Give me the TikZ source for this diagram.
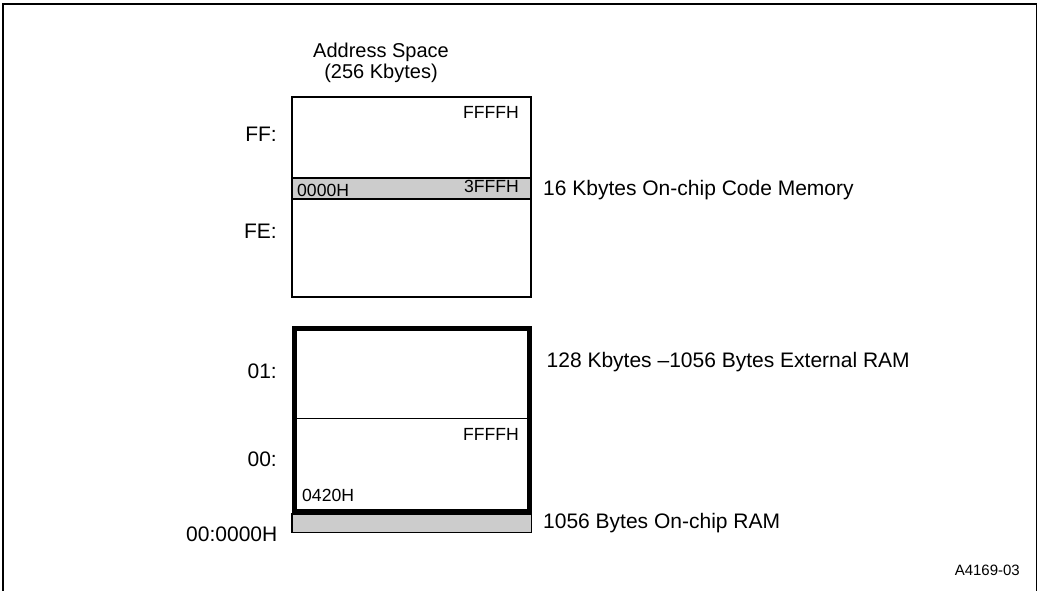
\documentclass[tikz,border=0pt]{standalone}
\usepackage{fontspec}
\setmainfont{Liberation Sans}
\usepackage{xcolor}
\usepackage{tikz}

\definecolor{bandgray}{HTML}{CCCCCC}

\begin{document}
\begin{tikzpicture}[x=1pt,y=-1pt,
  lbl/.style={inner sep=0pt, font=\fontsize{21}{25}\selectfont},
  addr/.style={inner sep=0pt, font=\fontsize{17.6}{21}\selectfont},
  band/.style={fill=bandgray, line width=1.2pt}]
\useasboundingbox (0,0) rectangle (1039,591);
\draw[line width=1.3pt] (3,591) -- (3,4) -- (1036.5,4) -- (1036.5,591);

\node[lbl, anchor=base, font=\fontsize{20}{24}\selectfont] (title) at (381,58) {Address Space};
\node[lbl, anchor=base, font=\fontsize{20}{24}\selectfont] (size) at (381,79) {(256 Kbytes)};

\draw[line width=1.2pt] (292,97) rectangle (531,297);
\filldraw[band] (292,178) rectangle (531,199);
\node[addr, anchor=base east] (topff) at (519,119) {FFFFH};
\node[addr, anchor=base east] (codetop) at (519,193) {3FFFH};
\node[addr, anchor=base west] (codebot) at (297,196.5) {0000H};

\filldraw[band] (292,514) rectangle (531.5,532.5);
\draw[line width=1pt] (294,418) -- (529.5,418);
\draw[line width=5pt] (294,328) rectangle (529.5,511.5);
\node[addr, anchor=base east] (ramtop) at (519,440) {FFFFH};
\node[addr, anchor=base west] (rambot) at (302,501.5) {0420H};

\node[lbl, anchor=base east] (segff) at (277,142) {FF:};
\node[lbl, anchor=base east] (segfe) at (277,238) {FE:};
\node[lbl, anchor=base east] (seg01) at (277,378) {01:};
\node[lbl, anchor=base east] (seg00) at (277,466) {00:};
\node[lbl, anchor=base east] (origin) at (277.5,541) {00:0000H};

\node[lbl, anchor=base west] (codemem) at (543,195) {16 Kbytes On-chip Code Memory};
\node[lbl, anchor=base west] (extram) at (546.5,367) {128 Kbytes \textendash1056 Bytes External RAM};
\node[lbl, anchor=base west] (chipram) at (543,528) {1056 Bytes On-chip RAM};

\node[inner sep=0pt, anchor=base east, font=\fontsize{15}{18}\selectfont] (figid) at (1020,575) {A4169-03};
\end{tikzpicture}
\end{document}
